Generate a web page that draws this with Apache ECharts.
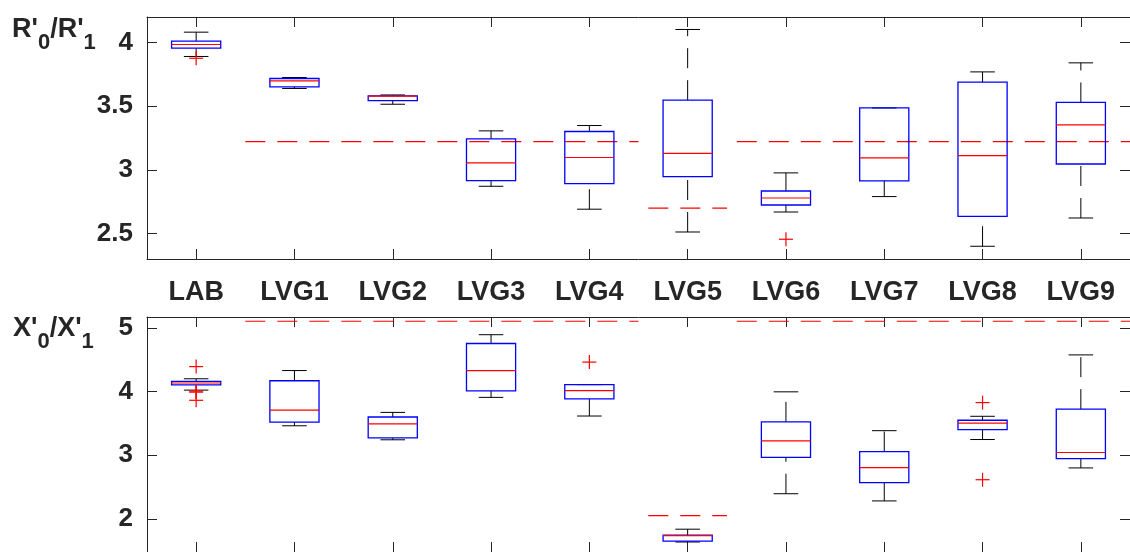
<!DOCTYPE html>
<html>
<head>
<meta charset="utf-8">
<script src="https://cdn.jsdelivr.net/npm/echarts@6/dist/echarts.min.js"></script>
<style>
  html, body { margin: 0; padding: 0; background: #fff; }
  #chart { width: 1130px; height: 552px; }
</style>
</head>
<body>
<div id="chart"></div>
<script>
// Groups along the horizontal axis
const categories = ['LAB', 'LVG1', 'LVG2', 'LVG3', 'LVG4', 'LVG5', 'LVG6', 'LVG7', 'LVG8', 'LVG9'];

// Box statistics per group: [lower whisker, Q1, median, Q3, upper whisker]
const boxesR = [
  [3.890, 3.955, 3.984, 4.010, 4.081],
  [3.639, 3.651, 3.698, 3.717, 3.725],
  [3.515, 3.544, 3.578, 3.581, 3.588],
  [2.871, 2.916, 3.054, 3.243, 3.306],
  [2.691, 2.892, 3.097, 3.301, 3.348],
  [2.512, 2.947, 3.130, 3.547, 4.102],
  [2.669, 2.724, 2.779, 2.834, 2.976],
  [2.790, 2.913, 3.094, 3.486, 3.486],
  [2.400, 2.635, 3.112, 3.688, 3.769],
  [2.622, 3.046, 3.353, 3.529, 3.840]
];
const boxesX = [
  [4.022, 4.103, 4.134, 4.160, 4.200],
  [3.462, 3.518, 3.708, 4.169, 4.329],
  [3.242, 3.272, 3.492, 3.600, 3.672],
  [3.908, 4.011, 4.329, 4.754, 4.892],
  [3.615, 3.883, 4.015, 4.108, 4.108],
  [1.637, 1.652, 1.737, 1.746, 1.838],
  [2.395, 2.965, 3.226, 3.523, 3.995],
  [2.282, 2.569, 2.806, 3.057, 3.385],
  [3.246, 3.400, 3.503, 3.549, 3.611],
  [2.800, 2.945, 3.042, 3.723, 4.575]
];

// Outliers: [group index, value]
const outliersR = [[0, 3.876], [6, 2.455]];
const outliersX = [[0, 4.391], [0, 4.006], [0, 3.990], [0, 3.862], [4, 4.462], [8, 3.826], [8, 2.615]];

// Reference level per group (null = none)
const refR = [null, 3.222, 3.222, 3.222, 3.222, 2.700, 3.222, 3.222, 3.222, 3.222];
const refX = [null, 5.103, 5.103, 5.103, 5.103, 2.052, 5.103, 5.103, 5.103, 5.103];

// Axis ranges and tick values
const rangeR = [2.3, 4.2];
const rangeX = [1.48, 5.17];
const ticksR = [2.5, 3, 3.5, 4];
const ticksX = [2, 3, 4, 5];

// Axis titles: pieces of text, subscripts flagged
const titleR = [["R'", false], ['0', true], ["/R'", false], ['1', true]];
const titleX = [["X'", false], ['0', true], ["/X'", false], ['1', true]];

const FAMILY = '"Liberation Sans", Arial, Helvetica, sans-serif';
const INK = '#262626';
const MAIN_FONT = 'bold 27px ' + FAMILY;
const SUB_FONT = 'bold 22px ' + FAMILY;

// Consecutive groups sharing a reference level become one dashed run
function toRuns(levels) {
  const runs = [];
  let cur = null;
  levels.forEach((v, i) => {
    if (v == null) { cur = null; return; }
    if (cur && cur[2] === v) { cur[1] = i; }
    else { cur = [i, i, v]; runs.push(cur); }
  });
  return runs;
}

// Lay out a title with subscripts as a row of text pieces
const measureCtx = document.createElement('canvas').getContext('2d');
function titleGraphics(pieces, x0, yMain, subDrop) {
  let x = x0;
  return pieces.map(([txt, isSub]) => {
    const font = isSub ? SUB_FONT : MAIN_FONT;
    measureCtx.font = font;
    const el = {
      type: 'text', x: x, y: isSub ? yMain + subDrop : yMain, silent: true,
      style: { text: txt, font: font, fill: INK, align: 'left', verticalAlign: 'middle',
               textAlign: 'left', textVerticalAlign: 'middle' }
    };
    x += measureCtx.measureText(txt).width;
    return el;
  });
}

function renderBox(params, api) {
  const i = api.value(0);
  const band = api.size([1, 0])[0];
  const x = api.coord([i, api.value(3)])[0];
  const y = k => api.coord([i, api.value(k)])[1];
  const lo = y(1), q1 = y(2), md = y(3), q3 = y(4), hi = y(5);
  const bw = band * 0.25, cw = band * 0.125;
  const wStyle = { stroke: '#000', lineWidth: 1, lineDash: [20, 12] };
  const capStyle = { stroke: '#000', lineWidth: 1 };
  return {
    type: 'group',
    children: [
      { type: 'line', shape: { x1: x, y1: q3, x2: x, y2: hi }, style: wStyle },
      { type: 'line', shape: { x1: x, y1: lo, x2: x, y2: q1 }, style: wStyle },
      { type: 'line', shape: { x1: x - cw, y1: hi, x2: x + cw, y2: hi }, style: capStyle },
      { type: 'line', shape: { x1: x - cw, y1: lo, x2: x + cw, y2: lo }, style: capStyle },
      { type: 'rect', shape: { x: x - bw, y: q3, width: 2 * bw, height: q1 - q3 },
        style: { fill: 'none', stroke: '#0000ff', lineWidth: 1.3 } },
      { type: 'line', shape: { x1: x - bw, y1: md, x2: x + bw, y2: md },
        style: { stroke: '#ff0000', lineWidth: 1.2 } }
    ]
  };
}

function renderPlus(params, api) {
  const p = api.coord([api.value(0), api.value(1)]);
  const h = 7;
  const st = { stroke: '#ff0000', lineWidth: 1.2 };
  return {
    type: 'group',
    children: [
      { type: 'line', shape: { x1: p[0] - h, y1: p[1], x2: p[0] + h, y2: p[1] }, style: st },
      { type: 'line', shape: { x1: p[0], y1: p[1] - h, x2: p[0], y2: p[1] + h }, style: st }
    ]
  };
}

function renderRun(params, api) {
  const a = api.value(0), b = api.value(1), v = api.value(2);
  const band = api.size([1, 0])[0];
  const pad = a === b ? 0.4 : 0.5;
  const x1 = api.coord([a, v])[0] - band * pad;
  const x2 = api.coord([b, v])[0] + band * pad;
  const yy = api.coord([a, v])[1];
  return {
    type: 'line',
    shape: { x1: x1, y1: yy, x2: x2, y2: yy },
    style: { stroke: '#ff0000', lineWidth: 1.2, lineDash: [20, 12] }
  };
}

function xAxisDef(grid, position, withLabels) {
  return {
    type: 'category', gridIndex: grid, position: position, data: categories,
    boundaryGap: true,
    axisLine: { show: true, lineStyle: { color: INK, width: 1 } },
    axisTick: { show: true, inside: true, length: 10, alignWithLabel: true, interval: 0,
                lineStyle: { color: INK, width: 1 } },
    axisLabel: withLabels ? {
      show: true, interval: 0, margin: 21, color: INK,
      fontSize: 27, fontWeight: 'bold', fontFamily: FAMILY, lineHeight: 26
    } : { show: false },
    splitLine: { show: false }
  };
}

function yAxisDef(grid, position, range, ticks, withLabels) {
  return {
    type: 'value', gridIndex: grid, position: position, min: range[0], max: range[1],
    axisLine: { show: true, lineStyle: { color: INK, width: 1 } },
    axisTick: { show: true, inside: true, length: 10, customValues: ticks,
                lineStyle: { color: INK, width: 1 } },
    axisLabel: withLabels ? {
      show: true, customValues: ticks, margin: 14, color: INK,
      fontSize: 26, fontWeight: 'bold', fontFamily: FAMILY
    } : { show: false },
    splitLine: { show: false }
  };
}

const chart = echarts.init(document.getElementById('chart'), null, { renderer: 'canvas' });
chart.setOption({
  animation: false,
  backgroundColor: '#ffffff',
  graphic: titleGraphics(titleR, 12, 30, 13).concat(titleGraphics(titleX, 13, 328.5, 13)),
  grid: [
    { left: 147, top: 17, width: 986, height: 242 },
    { left: 147, top: 317, width: 986, height: 240 }
  ],
  xAxis: [
    xAxisDef(0, 'bottom', true),
    xAxisDef(0, 'top', false),
    xAxisDef(1, 'top', false),
    xAxisDef(1, 'bottom', false)
  ],
  yAxis: [
    yAxisDef(0, 'left', rangeR, ticksR, true),
    yAxisDef(0, 'right', rangeR, ticksR, false),
    yAxisDef(1, 'left', rangeX, ticksX, true),
    yAxisDef(1, 'right', rangeX, ticksX, false)
  ],
  series: [
    { type: 'custom', name: 'refR', xAxisIndex: 0, yAxisIndex: 0, renderItem: renderRun,
      data: toRuns(refR), encode: { x: [0, 1], y: 2 }, silent: true, z: 1 },
    { type: 'custom', name: 'boxR', xAxisIndex: 0, yAxisIndex: 0, renderItem: renderBox,
      data: boxesR.map((b, i) => [i].concat(b)), encode: { x: 0, y: [1, 2, 3, 4, 5] }, silent: true, z: 2 },
    { type: 'custom', name: 'outR', xAxisIndex: 0, yAxisIndex: 0, renderItem: renderPlus,
      data: outliersR, encode: { x: 0, y: 1 }, silent: true, z: 3 },
    { type: 'custom', name: 'refX', xAxisIndex: 2, yAxisIndex: 2, renderItem: renderRun,
      data: toRuns(refX), encode: { x: [0, 1], y: 2 }, silent: true, z: 1 },
    { type: 'custom', name: 'boxX', xAxisIndex: 2, yAxisIndex: 2, renderItem: renderBox,
      data: boxesX.map((b, i) => [i].concat(b)), encode: { x: 0, y: [1, 2, 3, 4, 5] }, silent: true, z: 2 },
    { type: 'custom', name: 'outX', xAxisIndex: 2, yAxisIndex: 2, renderItem: renderPlus,
      data: outliersX, encode: { x: 0, y: 1 }, silent: true, z: 3 }
  ]
});
</script>
</body>
</html>
